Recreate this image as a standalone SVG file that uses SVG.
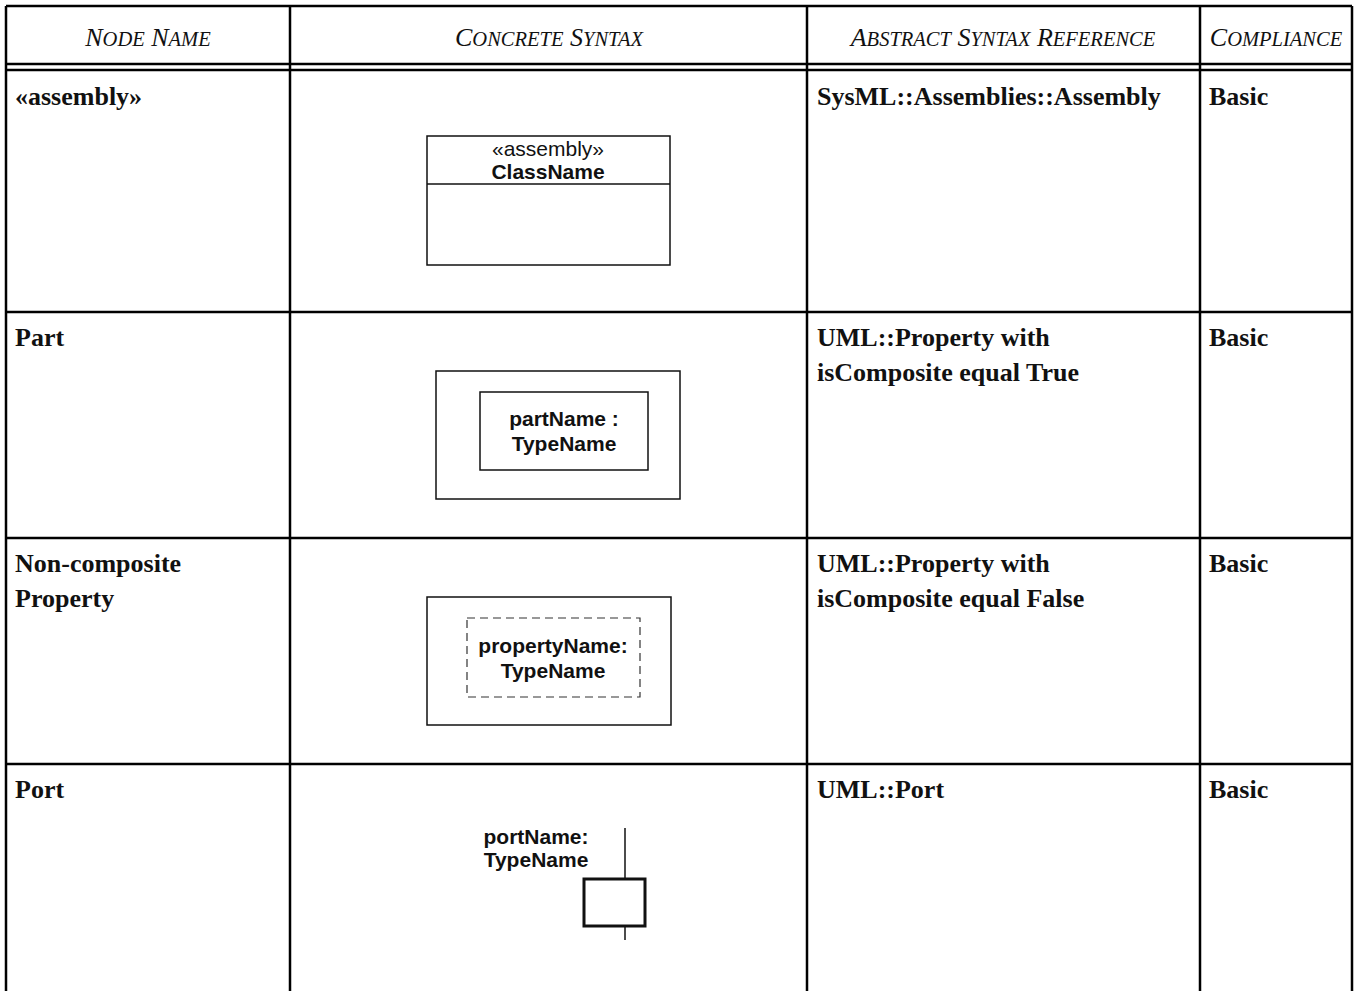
<svg xmlns="http://www.w3.org/2000/svg" width="1359" height="991" viewBox="0 0 1359 991">
  <style>
    .grid { stroke: #000; stroke-width: 2.5; fill: none; }
    .hdr { font-family: "Liberation Serif", serif; font-style: italic; font-size: 26px; fill: #111; text-anchor: middle; }
    .sc { font-size: 20.5px; }
    .cell { font-family: "Liberation Serif", serif; font-weight: bold; font-size: 26px; fill: #111; }
    .box { stroke: #111; stroke-width: 1.5; fill: #fff; }
    .dash { stroke: #333; stroke-width: 1.2; fill: none; stroke-dasharray: 8 5; }
    .lbl { font-family: "Liberation Sans", Arial, sans-serif; font-size: 21px; fill: #111; text-anchor: middle; }
    .b { font-weight: bold; }
  </style>

  <rect width="1359" height="991" fill="#fff"/>

  <!-- table grid -->
  <g id="table">
    <line class="grid" x1="6" y1="6" x2="1352" y2="6"/>
    <line class="grid" x1="6" y1="6" x2="6" y2="991"/>
    <line class="grid" x1="1352" y1="6" x2="1352" y2="991"/>
    <line class="grid" x1="290" y1="6" x2="290" y2="991"/>
    <line class="grid" x1="807" y1="6" x2="807" y2="991"/>
    <line class="grid" x1="1200" y1="6" x2="1200" y2="991"/>
    <line class="grid" x1="6" y1="64" x2="1352" y2="64"/>
    <line class="grid" x1="6" y1="70" x2="1352" y2="70"/>
    <line class="grid" x1="6" y1="312" x2="1352" y2="312"/>
    <line class="grid" x1="6" y1="538" x2="1352" y2="538"/>
    <line class="grid" x1="6" y1="764" x2="1352" y2="764"/>
  </g>

  <!-- column headers -->
  <g id="headers">
    <text class="hdr" x="148" y="46">N<tspan class="sc">ODE</tspan> N<tspan class="sc">AME</tspan></text>
    <text class="hdr" x="549" y="46">C<tspan class="sc">ONCRETE</tspan> S<tspan class="sc">YNTAX</tspan></text>
    <text class="hdr" x="1003" y="46">A<tspan class="sc">BSTRACT</tspan> S<tspan class="sc">YNTAX</tspan> R<tspan class="sc">EFERENCE</tspan></text>
    <text class="hdr" x="1276" y="46">C<tspan class="sc">OMPLIANCE</tspan></text>
  </g>

  <!-- row: assembly -->
  <g id="row-assembly">
    <text class="cell" x="15" y="105">«assembly»</text>
    <text class="cell" x="817" y="105">SysML::Assemblies::Assembly</text>
    <text class="cell" x="1209" y="105">Basic</text>
  </g>
  <g id="node-assembly">
    <rect class="box" x="427" y="136" width="243" height="129"/>
    <line class="box" x1="427" y1="184" x2="670" y2="184"/>
    <text class="lbl" x="548" y="156">«assembly»</text>
    <text class="lbl b" x="548" y="179">ClassName</text>
  </g>

  <!-- row: part -->
  <g id="row-part">
    <text class="cell" x="15" y="346">Part</text>
    <text class="cell" x="817" y="346">UML::Property with</text>
    <text class="cell" x="817" y="381">isComposite equal True</text>
    <text class="cell" x="1209" y="346">Basic</text>
  </g>
  <g id="node-part">
    <rect class="box" x="436" y="371" width="244" height="128"/>
    <rect class="box" x="480" y="392" width="168" height="78"/>
    <text class="lbl b" x="564" y="426">partName :</text>
    <text class="lbl b" x="564" y="451">TypeName</text>
  </g>

  <!-- row: non-composite property -->
  <g id="row-noncomposite">
    <text class="cell" x="15" y="572">Non-composite</text>
    <text class="cell" x="15" y="607">Property</text>
    <text class="cell" x="817" y="572">UML::Property with</text>
    <text class="cell" x="817" y="607">isComposite equal False</text>
    <text class="cell" x="1209" y="572">Basic</text>
  </g>
  <g id="node-noncomposite">
    <rect class="box" x="427" y="597" width="244" height="128"/>
    <rect class="dash" x="467" y="618" width="173" height="79"/>
    <text class="lbl b" x="553" y="653">propertyName:</text>
    <text class="lbl b" x="553" y="678">TypeName</text>
  </g>

  <!-- row: port -->
  <g id="row-port">
    <text class="cell" x="15" y="798">Port</text>
    <text class="cell" x="817" y="798">UML::Port</text>
    <text class="cell" x="1209" y="798">Basic</text>
  </g>
  <g id="node-port">
    <line x1="625" y1="828" x2="625" y2="940" stroke="#111" stroke-width="1.5"/>
    <rect x="584" y="879" width="61" height="47" fill="#fff" stroke="#111" stroke-width="3"/>
    <text class="lbl b" x="536" y="844">portName:</text>
    <text class="lbl b" x="536" y="867">TypeName</text>
  </g>
</svg>
